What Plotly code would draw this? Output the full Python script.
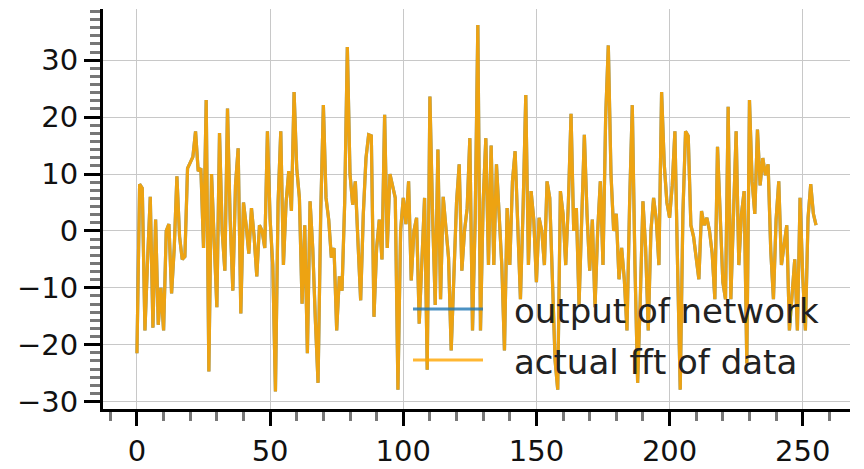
import plotly.graph_objects as go

# ---- data ----
actual_fft = [
    -21.5, 8.2, 7.5, -17.5, -5, 6, -17, 2, -16.5, -10,
    -17.5, 0, 1.2, -11, -3, 9.6, -1, -5, -4.5, 11,
    12, 13, 17.5, 10.5, 11, -3, 23, -24.7, 10, -2,
    -13.4, 17.2, 0, -7, 21.5, 2, -10.5, 8, 14.5, -14.5,
    5, 1, -4, 4, -1, -8, 1, 0, -3, 17.5,
    2, -6, -28.2, 5, 17.5, -6, 5, 10.5, 3.5, 24.4,
    11, 5.8, -12.8, 1, -21.5, 5.2, -3, -15.7, -26.7, 3,
    22.1, 5.8, 2, -4.7, -3, -17.5, -8, -10.5, 5, 32.3,
    10, 4.6, 8.7, -2, -12.2, 3, 12.8, 16.9, 16.7, -15.1,
    -3, 2, -5, 20.4, -3, 10, 7.6, 5.8, -27.9, 0,
    5.8, 1.2, 8.7, -8.7, 0, 2.3, -16.3, -5, 5.8, -24.4,
    23.6, 3, -13, 14.3, -12, 6, 0, -4.7, -21, -6,
    5, 11.7, -7, 0, 4, 16.3, -17.5, 2, 36.2, -17.5,
    5, 16.3, -6, 15, -6, 11.7, 3, -6, -21, 4,
    -6, 8.7, 14, 2, -12, 4, 23.9, -6, 7, 2,
    -9, 2.3, 0, -6, 8.7, 5.8, -10, -22.7, -27.9, 7,
    3, -6, 5, 20.6, 0, 4, -13, 2, 16.9, 3,
    -7, 2, -13.4, 0, 8.7, -6, 20, 32.6, 10, 0,
    3, -8.5, -3, -8.5, -17.5, 5, 22.1, -6, -26.7, -12,
    5.2, -3, -17.5, 0, 5.8, 2, -6, 24.4, 11.7, 5,
    2.3, 8, 17.5, -6, -27.9, 3, 17.5, 16.7, 1, -1,
    -5, -8.5, 3.5, 1, 2.3, 0, -4, -12, 14.8, 2,
    -9, -12, 21.8, -12, 5, 17.5, -6, 3, 7, -23.3,
    23, 8.7, 3, 17.8, 8, 12.8, 9.8, 11.7, -3.5, -12,
    2, 8.7, -6, -2, 1, -17.5, -11, -5, -17.5, 5.8,
    -8, -17.5, 2.3, 8.2, 3, 1,
]
# the network output lies under the orange curve, indistinguishable from it
network_output = list(actual_fft)
sample_index = list(range(len(actual_fft)))

x_ticks = [0, 50, 100, 150, 200, 250]
y_ticks = [-30, -20, -10, 0, 10, 20, 30]
series_names = ["output of network", "actual fft of data"]

FONT = "DejaVu Sans"

fig = go.Figure()
fig.add_trace(go.Scatter(
    x=sample_index, y=network_output, mode="lines", name=series_names[0],
    line=dict(color="#1f77b4", width=3.2), opacity=0.8, showlegend=False,
))
fig.add_trace(go.Scatter(
    x=sample_index, y=actual_fft, mode="lines", name=series_names[1],
    line=dict(color="#ffa500", width=3.2), opacity=0.9, showlegend=False,
))

# hand-drawn legend (longer line samples like the reference)
leg_rows = [(series_names[0], "rgba(31,119,180,0.8)", 0.25),
            (series_names[1], "rgba(255,165,0,0.8)", 0.1225)]
for name, col, yy in leg_rows:
    fig.add_shape(type="line", xref="paper", yref="paper",
                  x0=0.415, x1=0.5087, y0=yy, y1=yy,
                  line=dict(color=col, width=3))
    fig.add_annotation(text=name, xref="paper", yref="paper",
                       x=0.5475, y=yy - 0.004, xanchor="left", yanchor="middle",
                       showarrow=False,
                       font=dict(family=FONT, size=34, color="#222222"))

axis_common = dict(
    showgrid=True, gridcolor="#c8c8c8", gridwidth=1,
    showline=True, linecolor="black", linewidth=3,
    ticks="outside", tickcolor="black", tickwidth=3,
    zeroline=False, automargin=False,
    tickfont=dict(family=FONT, size=29, color="#111111"),
)

fig.update_xaxes(
    **axis_common, range=[-12.75, 267.75], tickvals=x_ticks, ticklen=14,
    minor=dict(dtick=10, tick0=0, ticks="outside", ticklen=9, tickwidth=3,
               tickcolor="#777777", showgrid=False),
)
fig.update_yaxes(
    **axis_common, range=[-31.3, 39.0], tickvals=y_ticks, ticklen=16,
    minor=dict(dtick=10 / 7, tick0=0, ticks="outside", ticklen=10, tickwidth=3,
               tickcolor="#777777", showgrid=False),
)

# the page adds an 8px body margin, so the figure is sized to compensate
fig.update_layout(
    width=856, height=461,
    margin=dict(l=95, r=14, t=1, b=60),
    paper_bgcolor="white", plot_bgcolor="white",
    font=dict(family=FONT),
    showlegend=False,
)

fig.write_html("out.html")
